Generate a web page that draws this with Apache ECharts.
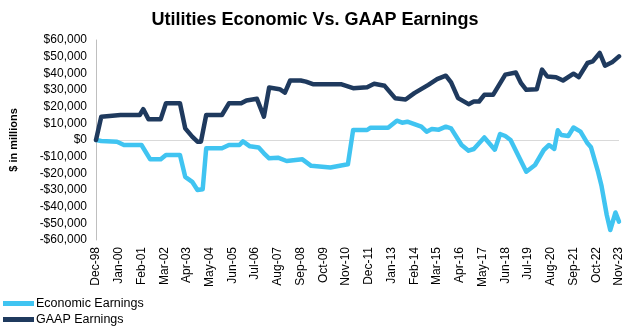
<!DOCTYPE html>
<html>
<head>
<meta charset="utf-8">
<script src="https://cdn.jsdelivr.net/npm/echarts@6/dist/echarts.min.js"></script>
<style>
  html, body { margin: 0; padding: 0; background: #ffffff; }
  #chart { width: 630px; height: 327px; }
</style>
</head>
<body>
<div id="chart"></div>
<script>
// Monthly timeline, Dec-98 through Nov-23 (300 months)
const monthNames = ['Jan','Feb','Mar','Apr','May','Jun','Jul','Aug','Sep','Oct','Nov','Dec'];
const months = [];
for (let i = 0; i < 300; i++) {
  const t = 11 + i;                       // Dec 1998 is month 11 of 1998
  const y = 1998 + Math.floor(t / 12);
  months.push(monthNames[t % 12] + '-' + String(y % 100).padStart(2, '0'));
}

// Labelled ticks shown every 13 months
const tickLabels = ['Dec-98','Jan-00','Feb-01','Mar-02','Apr-03','May-04','Jun-05','Jul-06',
  'Aug-07','Sep-08','Oct-09','Nov-10','Dec-11','Jan-13','Feb-14','Mar-15','Apr-16','May-17',
  'Jun-18','Jul-19','Aug-20','Sep-21','Oct-22','Nov-23'];

// Economic Earnings ($ millions): month index and value at each change point
const econMonth = [0, 3, 12, 16, 26, 31, 37, 40, 48, 51, 55, 58, 61, 63, 72, 76, 82, 84, 88, 93,
  96, 99, 104, 109, 118, 123, 134, 144, 147, 155, 157, 167, 172, 175, 178, 186, 189, 192, 196,
  200, 203, 209, 213, 216, 222, 228, 231, 234, 237, 246, 251, 256, 259, 262, 264, 266, 270,
  273, 277, 281, 283, 287, 289, 292, 294, 297, 299];
const econValue = [0, -600, -1000, -3000, -3000, -11600, -11600, -9000, -9000, -22100, -25100,
  -30000, -29500, -5000, -5000, -3000, -3000, -800, -3800, -4500, -8000, -11000, -10600, -12600,
  -11600, -15500, -16500, -14600, 6000, 6000, 7400, 7400, 11600, 10400, 11000, 8000, 5000, 6600,
  6200, 8000, 7000, -3000, -6400, -5400, 1500, -5800, 3600, 2400, 0, -19000, -15000, -6000,
  -3000, -5300, 5800, 3000, 2400, 7500, 5000, -2000, -4400, -19000, -27500, -45000, -54000,
  -43500, -49000];

// GAAP Earnings ($ millions)
const gaapMonth = [0, 3, 14, 25, 27, 30, 37, 40, 48, 51, 55, 58, 60, 63, 72, 76, 83, 86, 92, 96,
  99, 105, 108, 111, 117, 120, 124, 140, 147, 155, 159, 165, 171, 177, 182, 190, 195, 200, 203,
  207, 213, 216, 219, 222, 227, 234, 240, 243, 246, 252, 255, 258, 263, 267, 273, 276, 281,
  284, 288, 291, 295, 299];
const gaapValue = [0, 14000, 15000, 15000, 18500, 12500, 12500, 22100, 22100, 7000, 2000, -1000,
  -1000, 15000, 15000, 22000, 22000, 23700, 24700, 14000, 31500, 30500, 28400, 35700, 35700,
  35000, 33500, 33500, 31100, 31700, 33700, 32500, 25100, 24300, 28100, 33100, 36500, 38600,
  34600, 25100, 21500, 23100, 23100, 27100, 27100, 39200, 40500, 34100, 30100, 30500, 42200,
  38100, 37700, 35700, 39800, 37700, 46200, 47200, 52200, 44600, 46600, 50200];

const yTicks = [-60000, -50000, -40000, -30000, -20000, -10000, 0, 10000, 20000, 30000, 40000, 50000, 60000];

const FONT = '"Liberation Sans", Arial, sans-serif';
const ECON_COLOR = '#40C4F1';
const GAAP_COLOR = '#1F3A5E';

function pairs(idx, vals) { return idx.map((m, i) => [m, vals[i]]); }

function fmtDollar(v) {
  const s = Math.abs(v).toLocaleString('en-US');
  return (v < 0 ? '-$' : '$') + s;
}

const chart = echarts.init(document.getElementById('chart'), null, { renderer: 'canvas' });
chart.setOption({
  animation: false,
  backgroundColor: '#ffffff',
  title: {
    text: 'Utilities Economic Vs. GAAP Earnings',
    left: 'center',
    top: 6,
    textStyle: { fontFamily: FONT, fontSize: 18, fontWeight: 'bold', color: '#000000' }
  },
  legend: {
    orient: 'vertical',
    left: 3,
    top: 297,
    padding: 0,
    itemWidth: 31,
    itemHeight: 5,
    itemGap: 3,
    icon: 'rect',
    textStyle: { fontFamily: FONT, fontSize: 12.5, lineHeight: 13, color: '#000000', padding: [0, 0, 0, -3] },
    data: ['Economic Earnings', 'GAAP Earnings']
  },
  grid: { left: 93, right: 11, top: 40, bottom: 87, containLabel: false },
  xAxis: {
    type: 'category',
    data: months,
    boundaryGap: false,
    axisLine: { show: false },
    axisTick: { show: false },
    axisLabel: {
      interval: (i, v) => tickLabels.indexOf(v) >= 0,
      rotate: 90,
      margin: 7,
      fontFamily: FONT,
      fontSize: 12,
      color: '#000000'
    },
    splitLine: { show: false }
  },
  yAxis: {
    type: 'value',
    min: yTicks[0],
    max: yTicks[yTicks.length - 1],
    interval: 10000,
    name: '$ in millions',
    nameLocation: 'middle',
    nameRotate: 90,
    nameGap: 77,
    nameTextStyle: { fontFamily: FONT, fontSize: 11, fontWeight: 'bold', color: '#000000' },
    axisLine: { show: true, lineStyle: { color: '#BFBFBF', width: 1 } },
    axisTick: { show: false },
    splitLine: { show: false },
    axisLabel: {
      formatter: fmtDollar,
      margin: 9,
      fontFamily: FONT,
      fontSize: 12,
      color: '#000000'
    }
  },
  series: [
    {
      name: 'Economic Earnings',
      type: 'line',
      data: pairs(econMonth, econValue),
      showSymbol: false,
      symbol: 'none',
      color: ECON_COLOR,
      lineStyle: { width: 4.5, color: ECON_COLOR, cap: 'round', join: 'round' },
      z: 3,
      markLine: {
        silent: true,
        symbol: 'none',
        label: { show: false },
        lineStyle: { color: '#D9D9D9', width: 1, type: 'solid' },
        data: [{ yAxis: 0 }],
        z: 1
      }
    },
    {
      name: 'GAAP Earnings',
      type: 'line',
      data: pairs(gaapMonth, gaapValue),
      showSymbol: false,
      symbol: 'none',
      color: GAAP_COLOR,
      lineStyle: { width: 4.5, color: GAAP_COLOR, cap: 'round', join: 'round' },
      z: 4
    }
  ]
});
</script>
</body>
</html>
